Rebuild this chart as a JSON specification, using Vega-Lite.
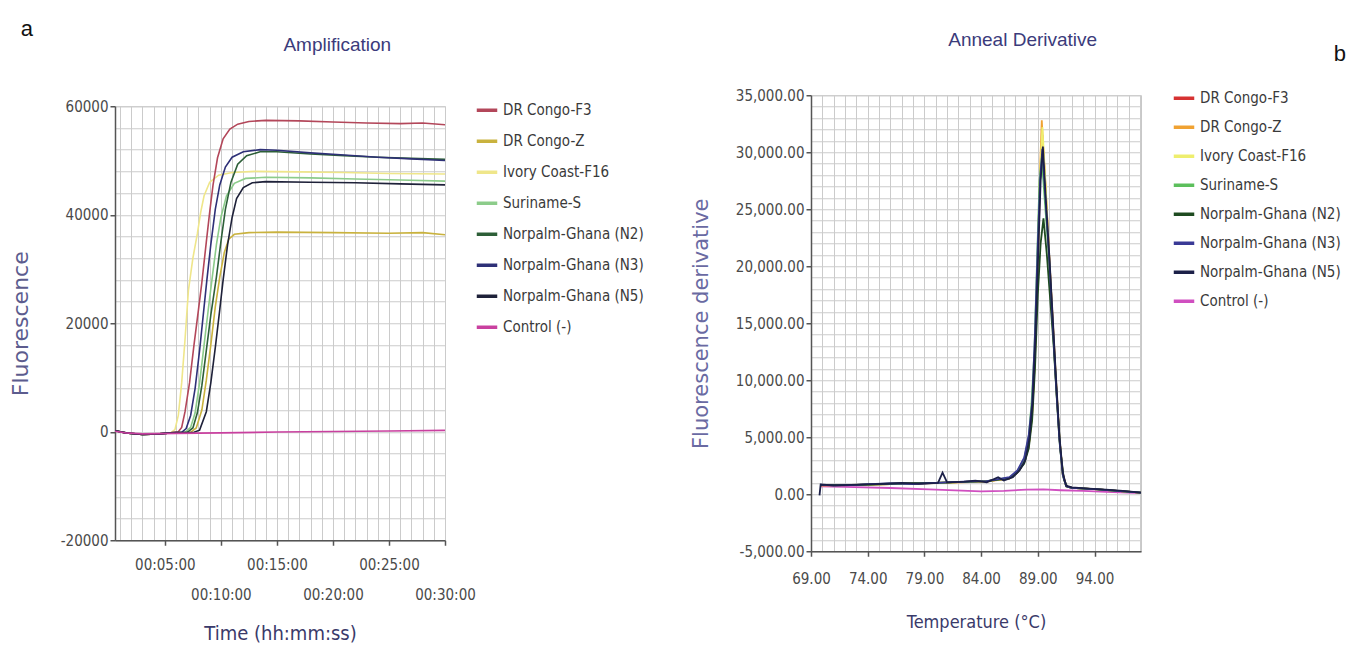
{
  "$schema": "https://vega.github.io/schema/vega-lite/v6.json",
  "description": "qPCR amplification curves (a) and anneal derivative melt curves (b) for oil palm samples",
  "background": "white",
  "padding": {"left": 8, "top": 17, "right": 8, "bottom": 4},
  "spacing": 45,
  "center": true,
  "config": {
    "font": "Liberation Sans",
    "view": {"stroke": "#c8c8c8"},
    "axis": {
      "labelFont": "Liberation Sans Narrow, DejaVu Sans Condensed, sans-serif",
      "labelFontSize": 15,
      "labelColor": "#4a4a4a",
      "domainColor": "#555555",
      "domainWidth": 1.5,
      "tickColor": "#555555",
      "tickSize": 5,
      "tickWidth": 1.5,
      "gridColor": "#cbcbcb",
      "gridWidth": 1,
      "titleFontWeight": "normal",
      "labelOverlap": false,
      "labelFlush": false
    },
    "legend": {
      "labelFont": "Liberation Sans Narrow, DejaVu Sans Condensed, sans-serif",
      "labelFontSize": 15,
      "labelColor": "#3a3a3a",
      "symbolType": "stroke",
      "symbolStrokeWidth": 3.5,
      "symbolSize": 420,
      "labelLimit": 200
    },
    "title": {"fontWeight": "normal", "font": "Liberation Sans"}
  },
  "datasets": {
    "amp": [
      {"sample": "Ivory Coast-F16", "minute": 0.55, "value": 200},
      {"sample": "Ivory Coast-F16", "minute": 1.5, "value": -200},
      {"sample": "Ivory Coast-F16", "minute": 3, "value": -500},
      {"sample": "Ivory Coast-F16", "minute": 4.5, "value": -400},
      {"sample": "Ivory Coast-F16", "minute": 5.5, "value": -200},
      {"sample": "Ivory Coast-F16", "minute": 5.9, "value": 400},
      {"sample": "Ivory Coast-F16", "minute": 6.2, "value": 3000},
      {"sample": "Ivory Coast-F16", "minute": 6.5, "value": 9000},
      {"sample": "Ivory Coast-F16", "minute": 6.8, "value": 17000},
      {"sample": "Ivory Coast-F16", "minute": 7.1, "value": 26000},
      {"sample": "Ivory Coast-F16", "minute": 7.5, "value": 32000},
      {"sample": "Ivory Coast-F16", "minute": 7.9, "value": 36500},
      {"sample": "Ivory Coast-F16", "minute": 8.2, "value": 40500},
      {"sample": "Ivory Coast-F16", "minute": 8.5, "value": 43500},
      {"sample": "Ivory Coast-F16", "minute": 9.0, "value": 46000},
      {"sample": "Ivory Coast-F16", "minute": 9.8, "value": 47300},
      {"sample": "Ivory Coast-F16", "minute": 11, "value": 47800},
      {"sample": "Ivory Coast-F16", "minute": 13, "value": 48000},
      {"sample": "Ivory Coast-F16", "minute": 17, "value": 47900},
      {"sample": "Ivory Coast-F16", "minute": 21, "value": 47800},
      {"sample": "Ivory Coast-F16", "minute": 25, "value": 47600},
      {"sample": "Ivory Coast-F16", "minute": 30, "value": 47500},

      {"sample": "DR Congo-Z", "minute": 0.55, "value": 200},
      {"sample": "DR Congo-Z", "minute": 1.5, "value": -200},
      {"sample": "DR Congo-Z", "minute": 3, "value": -500},
      {"sample": "DR Congo-Z", "minute": 4.5, "value": -400},
      {"sample": "DR Congo-Z", "minute": 5.5, "value": -200},
      {"sample": "DR Congo-Z", "minute": 7.3, "value": -100},
      {"sample": "DR Congo-Z", "minute": 7.8, "value": 700},
      {"sample": "DR Congo-Z", "minute": 8.3, "value": 4000},
      {"sample": "DR Congo-Z", "minute": 8.7, "value": 9500},
      {"sample": "DR Congo-Z", "minute": 9.1, "value": 16000},
      {"sample": "DR Congo-Z", "minute": 9.5, "value": 23000},
      {"sample": "DR Congo-Z", "minute": 9.9, "value": 28500},
      {"sample": "DR Congo-Z", "minute": 10.3, "value": 33000},
      {"sample": "DR Congo-Z", "minute": 10.7, "value": 35500},
      {"sample": "DR Congo-Z", "minute": 11.2, "value": 36400},
      {"sample": "DR Congo-Z", "minute": 12.5, "value": 36700},
      {"sample": "DR Congo-Z", "minute": 15, "value": 36800},
      {"sample": "DR Congo-Z", "minute": 20, "value": 36700},
      {"sample": "DR Congo-Z", "minute": 25, "value": 36600},
      {"sample": "DR Congo-Z", "minute": 28, "value": 36700},
      {"sample": "DR Congo-Z", "minute": 30, "value": 36300},

      {"sample": "Suriname-S", "minute": 0.55, "value": 200},
      {"sample": "Suriname-S", "minute": 1.5, "value": -200},
      {"sample": "Suriname-S", "minute": 3, "value": -500},
      {"sample": "Suriname-S", "minute": 4.5, "value": -400},
      {"sample": "Suriname-S", "minute": 5.5, "value": -200},
      {"sample": "Suriname-S", "minute": 6.8, "value": -100},
      {"sample": "Suriname-S", "minute": 7.3, "value": 800},
      {"sample": "Suriname-S", "minute": 7.7, "value": 3500},
      {"sample": "Suriname-S", "minute": 8.1, "value": 9000},
      {"sample": "Suriname-S", "minute": 8.5, "value": 16000},
      {"sample": "Suriname-S", "minute": 8.9, "value": 23000},
      {"sample": "Suriname-S", "minute": 9.2, "value": 28000},
      {"sample": "Suriname-S", "minute": 9.6, "value": 34500},
      {"sample": "Suriname-S", "minute": 10.0, "value": 39500},
      {"sample": "Suriname-S", "minute": 10.5, "value": 43500},
      {"sample": "Suriname-S", "minute": 11.2, "value": 45800},
      {"sample": "Suriname-S", "minute": 12.2, "value": 46700},
      {"sample": "Suriname-S", "minute": 14, "value": 46900},
      {"sample": "Suriname-S", "minute": 18, "value": 46800},
      {"sample": "Suriname-S", "minute": 22, "value": 46600},
      {"sample": "Suriname-S", "minute": 26, "value": 46400},
      {"sample": "Suriname-S", "minute": 30, "value": 46200},

      {"sample": "DR Congo-F3", "minute": 0.55, "value": 200},
      {"sample": "DR Congo-F3", "minute": 1.5, "value": -200},
      {"sample": "DR Congo-F3", "minute": 3, "value": -500},
      {"sample": "DR Congo-F3", "minute": 4.5, "value": -400},
      {"sample": "DR Congo-F3", "minute": 5.5, "value": -200},
      {"sample": "DR Congo-F3", "minute": 6.2, "value": 0},
      {"sample": "DR Congo-F3", "minute": 6.5, "value": 800},
      {"sample": "DR Congo-F3", "minute": 6.8, "value": 3700},
      {"sample": "DR Congo-F3", "minute": 7.2, "value": 9000},
      {"sample": "DR Congo-F3", "minute": 7.6, "value": 16000},
      {"sample": "DR Congo-F3", "minute": 8.0, "value": 22500},
      {"sample": "DR Congo-F3", "minute": 8.3, "value": 27500},
      {"sample": "DR Congo-F3", "minute": 8.7, "value": 35000},
      {"sample": "DR Congo-F3", "minute": 9.0, "value": 40500},
      {"sample": "DR Congo-F3", "minute": 9.3, "value": 45500},
      {"sample": "DR Congo-F3", "minute": 9.7, "value": 50500},
      {"sample": "DR Congo-F3", "minute": 10.2, "value": 54000},
      {"sample": "DR Congo-F3", "minute": 10.8, "value": 55800},
      {"sample": "DR Congo-F3", "minute": 11.5, "value": 56700},
      {"sample": "DR Congo-F3", "minute": 12.5, "value": 57200},
      {"sample": "DR Congo-F3", "minute": 14, "value": 57400},
      {"sample": "DR Congo-F3", "minute": 17, "value": 57300},
      {"sample": "DR Congo-F3", "minute": 20, "value": 57100},
      {"sample": "DR Congo-F3", "minute": 23, "value": 56900},
      {"sample": "DR Congo-F3", "minute": 26, "value": 56800},
      {"sample": "DR Congo-F3", "minute": 28, "value": 56900},
      {"sample": "DR Congo-F3", "minute": 30, "value": 56600},

      {"sample": "Norpalm-Ghana (N2)", "minute": 0.55, "value": 200},
      {"sample": "Norpalm-Ghana (N2)", "minute": 1.5, "value": -200},
      {"sample": "Norpalm-Ghana (N2)", "minute": 3, "value": -500},
      {"sample": "Norpalm-Ghana (N2)", "minute": 4.5, "value": -400},
      {"sample": "Norpalm-Ghana (N2)", "minute": 5.5, "value": -200},
      {"sample": "Norpalm-Ghana (N2)", "minute": 7.0, "value": -100},
      {"sample": "Norpalm-Ghana (N2)", "minute": 7.5, "value": 700},
      {"sample": "Norpalm-Ghana (N2)", "minute": 7.9, "value": 3500},
      {"sample": "Norpalm-Ghana (N2)", "minute": 8.3, "value": 8500},
      {"sample": "Norpalm-Ghana (N2)", "minute": 8.7, "value": 15000},
      {"sample": "Norpalm-Ghana (N2)", "minute": 9.1, "value": 21500},
      {"sample": "Norpalm-Ghana (N2)", "minute": 9.6, "value": 28500},
      {"sample": "Norpalm-Ghana (N2)", "minute": 10.0, "value": 35000},
      {"sample": "Norpalm-Ghana (N2)", "minute": 10.4, "value": 41000},
      {"sample": "Norpalm-Ghana (N2)", "minute": 10.9, "value": 46000},
      {"sample": "Norpalm-Ghana (N2)", "minute": 11.5, "value": 49300},
      {"sample": "Norpalm-Ghana (N2)", "minute": 12.3, "value": 50900},
      {"sample": "Norpalm-Ghana (N2)", "minute": 13.5, "value": 51600},
      {"sample": "Norpalm-Ghana (N2)", "minute": 15, "value": 51600},
      {"sample": "Norpalm-Ghana (N2)", "minute": 18, "value": 51200},
      {"sample": "Norpalm-Ghana (N2)", "minute": 21, "value": 50900},
      {"sample": "Norpalm-Ghana (N2)", "minute": 24, "value": 50600},
      {"sample": "Norpalm-Ghana (N2)", "minute": 27, "value": 50400},
      {"sample": "Norpalm-Ghana (N2)", "minute": 30, "value": 50200},

      {"sample": "Norpalm-Ghana (N3)", "minute": 0.55, "value": 200},
      {"sample": "Norpalm-Ghana (N3)", "minute": 1.5, "value": -200},
      {"sample": "Norpalm-Ghana (N3)", "minute": 3, "value": -500},
      {"sample": "Norpalm-Ghana (N3)", "minute": 4.5, "value": -400},
      {"sample": "Norpalm-Ghana (N3)", "minute": 5.5, "value": -200},
      {"sample": "Norpalm-Ghana (N3)", "minute": 6.5, "value": -100},
      {"sample": "Norpalm-Ghana (N3)", "minute": 6.9, "value": 600},
      {"sample": "Norpalm-Ghana (N3)", "minute": 7.3, "value": 3000},
      {"sample": "Norpalm-Ghana (N3)", "minute": 7.7, "value": 8000},
      {"sample": "Norpalm-Ghana (N3)", "minute": 8.1, "value": 15000},
      {"sample": "Norpalm-Ghana (N3)", "minute": 8.45, "value": 22000},
      {"sample": "Norpalm-Ghana (N3)", "minute": 8.75, "value": 28000},
      {"sample": "Norpalm-Ghana (N3)", "minute": 9.1, "value": 34500},
      {"sample": "Norpalm-Ghana (N3)", "minute": 9.5, "value": 41000},
      {"sample": "Norpalm-Ghana (N3)", "minute": 9.9, "value": 45500},
      {"sample": "Norpalm-Ghana (N3)", "minute": 10.4, "value": 48800},
      {"sample": "Norpalm-Ghana (N3)", "minute": 11.0, "value": 50600},
      {"sample": "Norpalm-Ghana (N3)", "minute": 12, "value": 51600},
      {"sample": "Norpalm-Ghana (N3)", "minute": 13.5, "value": 52000},
      {"sample": "Norpalm-Ghana (N3)", "minute": 15, "value": 51900},
      {"sample": "Norpalm-Ghana (N3)", "minute": 18, "value": 51400},
      {"sample": "Norpalm-Ghana (N3)", "minute": 21, "value": 51000},
      {"sample": "Norpalm-Ghana (N3)", "minute": 24, "value": 50600},
      {"sample": "Norpalm-Ghana (N3)", "minute": 27, "value": 50300},
      {"sample": "Norpalm-Ghana (N3)", "minute": 30, "value": 50000},

      {"sample": "Norpalm-Ghana (N5)", "minute": 0.55, "value": 200},
      {"sample": "Norpalm-Ghana (N5)", "minute": 1.5, "value": -200},
      {"sample": "Norpalm-Ghana (N5)", "minute": 3, "value": -500},
      {"sample": "Norpalm-Ghana (N5)", "minute": 4.5, "value": -400},
      {"sample": "Norpalm-Ghana (N5)", "minute": 5.5, "value": -200},
      {"sample": "Norpalm-Ghana (N5)", "minute": 7.6, "value": -100},
      {"sample": "Norpalm-Ghana (N5)", "minute": 8.1, "value": 300},
      {"sample": "Norpalm-Ghana (N5)", "minute": 8.7, "value": 3700},
      {"sample": "Norpalm-Ghana (N5)", "minute": 9.1, "value": 9000},
      {"sample": "Norpalm-Ghana (N5)", "minute": 9.5, "value": 15500},
      {"sample": "Norpalm-Ghana (N5)", "minute": 9.9, "value": 22500},
      {"sample": "Norpalm-Ghana (N5)", "minute": 10.2, "value": 28000},
      {"sample": "Norpalm-Ghana (N5)", "minute": 10.6, "value": 34500},
      {"sample": "Norpalm-Ghana (N5)", "minute": 11.0, "value": 39500},
      {"sample": "Norpalm-Ghana (N5)", "minute": 11.4, "value": 43000},
      {"sample": "Norpalm-Ghana (N5)", "minute": 12.0, "value": 45000},
      {"sample": "Norpalm-Ghana (N5)", "minute": 12.8, "value": 45900},
      {"sample": "Norpalm-Ghana (N5)", "minute": 14, "value": 46100},
      {"sample": "Norpalm-Ghana (N5)", "minute": 18, "value": 46000},
      {"sample": "Norpalm-Ghana (N5)", "minute": 22, "value": 45900},
      {"sample": "Norpalm-Ghana (N5)", "minute": 26, "value": 45700},
      {"sample": "Norpalm-Ghana (N5)", "minute": 30, "value": 45500},

      {"sample": "Control (-)", "minute": 0.55, "value": 100},
      {"sample": "Control (-)", "minute": 1.5, "value": -200},
      {"sample": "Control (-)", "minute": 3, "value": -400},
      {"sample": "Control (-)", "minute": 6, "value": -300},
      {"sample": "Control (-)", "minute": 10, "value": -200},
      {"sample": "Control (-)", "minute": 15, "value": -50},
      {"sample": "Control (-)", "minute": 20, "value": 50},
      {"sample": "Control (-)", "minute": 25, "value": 150},
      {"sample": "Control (-)", "minute": 30, "value": 250}
    ],
    "melt": [
      {"sample": "Control (-)", "temp": 69.8, "value": 700},
      {"sample": "Control (-)", "temp": 72, "value": 650},
      {"sample": "Control (-)", "temp": 76, "value": 550},
      {"sample": "Control (-)", "temp": 80, "value": 400},
      {"sample": "Control (-)", "temp": 84, "value": 250},
      {"sample": "Control (-)", "temp": 86, "value": 300},
      {"sample": "Control (-)", "temp": 88, "value": 400},
      {"sample": "Control (-)", "temp": 89.5, "value": 420},
      {"sample": "Control (-)", "temp": 91, "value": 350},
      {"sample": "Control (-)", "temp": 93, "value": 300},
      {"sample": "Control (-)", "temp": 95, "value": 200},
      {"sample": "Control (-)", "temp": 98.1, "value": 100},

      {"sample": "DR Congo-F3", "temp": 69.8, "value": 800},
      {"sample": "DR Congo-F3", "temp": 72.5, "value": 800},
      {"sample": "DR Congo-F3", "temp": 76, "value": 900},
      {"sample": "DR Congo-F3", "temp": 80, "value": 1000},
      {"sample": "DR Congo-F3", "temp": 84.5, "value": 1150},
      {"sample": "DR Congo-F3", "temp": 86.5, "value": 1400},
      {"sample": "DR Congo-F3", "temp": 87.2, "value": 1900},
      {"sample": "DR Congo-F3", "temp": 87.8, "value": 2800},
      {"sample": "DR Congo-F3", "temp": 88.2, "value": 4200},
      {"sample": "DR Congo-F3", "temp": 88.5, "value": 7000},
      {"sample": "DR Congo-F3", "temp": 88.75, "value": 12000},
      {"sample": "DR Congo-F3", "temp": 89.0, "value": 20000},
      {"sample": "DR Congo-F3", "temp": 89.2, "value": 27500},
      {"sample": "DR Congo-F3", "temp": 89.4, "value": 31500},
      {"sample": "DR Congo-F3", "temp": 89.6, "value": 28500},
      {"sample": "DR Congo-F3", "temp": 90.0, "value": 21000},
      {"sample": "DR Congo-F3", "temp": 90.3, "value": 15500},
      {"sample": "DR Congo-F3", "temp": 90.6, "value": 10000},
      {"sample": "DR Congo-F3", "temp": 90.9, "value": 5000},
      {"sample": "DR Congo-F3", "temp": 91.2, "value": 1800},
      {"sample": "DR Congo-F3", "temp": 91.5, "value": 700},
      {"sample": "DR Congo-F3", "temp": 92, "value": 550},
      {"sample": "DR Congo-F3", "temp": 94, "value": 450},
      {"sample": "DR Congo-F3", "temp": 96, "value": 300},
      {"sample": "DR Congo-F3", "temp": 98.1, "value": 150},

      {"sample": "DR Congo-Z", "temp": 69.8, "value": 750},
      {"sample": "DR Congo-Z", "temp": 72.5, "value": 800},
      {"sample": "DR Congo-Z", "temp": 76, "value": 880},
      {"sample": "DR Congo-Z", "temp": 80, "value": 980},
      {"sample": "DR Congo-Z", "temp": 84.5, "value": 1100},
      {"sample": "DR Congo-Z", "temp": 86.5, "value": 1400},
      {"sample": "DR Congo-Z", "temp": 87.2, "value": 1900},
      {"sample": "DR Congo-Z", "temp": 87.8, "value": 2800},
      {"sample": "DR Congo-Z", "temp": 88.2, "value": 4300},
      {"sample": "DR Congo-Z", "temp": 88.5, "value": 7200},
      {"sample": "DR Congo-Z", "temp": 88.75, "value": 12500},
      {"sample": "DR Congo-Z", "temp": 89.0, "value": 21000},
      {"sample": "DR Congo-Z", "temp": 89.2, "value": 28500},
      {"sample": "DR Congo-Z", "temp": 89.35, "value": 32800},
      {"sample": "DR Congo-Z", "temp": 89.5, "value": 30000},
      {"sample": "DR Congo-Z", "temp": 89.7, "value": 26500},
      {"sample": "DR Congo-Z", "temp": 90.0, "value": 21000},
      {"sample": "DR Congo-Z", "temp": 90.3, "value": 15500},
      {"sample": "DR Congo-Z", "temp": 90.6, "value": 10000},
      {"sample": "DR Congo-Z", "temp": 90.9, "value": 5000},
      {"sample": "DR Congo-Z", "temp": 91.2, "value": 1800},
      {"sample": "DR Congo-Z", "temp": 91.5, "value": 700},
      {"sample": "DR Congo-Z", "temp": 92, "value": 550},
      {"sample": "DR Congo-Z", "temp": 94, "value": 450},
      {"sample": "DR Congo-Z", "temp": 96, "value": 300},
      {"sample": "DR Congo-Z", "temp": 98.1, "value": 150},

      {"sample": "Ivory Coast-F16", "temp": 69.8, "value": 800},
      {"sample": "Ivory Coast-F16", "temp": 72.5, "value": 820},
      {"sample": "Ivory Coast-F16", "temp": 76, "value": 900},
      {"sample": "Ivory Coast-F16", "temp": 80, "value": 1000},
      {"sample": "Ivory Coast-F16", "temp": 84.5, "value": 1150},
      {"sample": "Ivory Coast-F16", "temp": 86.5, "value": 1400},
      {"sample": "Ivory Coast-F16", "temp": 87.2, "value": 1900},
      {"sample": "Ivory Coast-F16", "temp": 87.8, "value": 2800},
      {"sample": "Ivory Coast-F16", "temp": 88.2, "value": 4200},
      {"sample": "Ivory Coast-F16", "temp": 88.5, "value": 7000},
      {"sample": "Ivory Coast-F16", "temp": 88.75, "value": 12000},
      {"sample": "Ivory Coast-F16", "temp": 89.0, "value": 20500},
      {"sample": "Ivory Coast-F16", "temp": 89.2, "value": 28000},
      {"sample": "Ivory Coast-F16", "temp": 89.4, "value": 32200},
      {"sample": "Ivory Coast-F16", "temp": 89.5, "value": 30500},
      {"sample": "Ivory Coast-F16", "temp": 89.7, "value": 27000},
      {"sample": "Ivory Coast-F16", "temp": 90.0, "value": 21000},
      {"sample": "Ivory Coast-F16", "temp": 90.3, "value": 15500},
      {"sample": "Ivory Coast-F16", "temp": 90.6, "value": 10000},
      {"sample": "Ivory Coast-F16", "temp": 90.9, "value": 5000},
      {"sample": "Ivory Coast-F16", "temp": 91.2, "value": 1800},
      {"sample": "Ivory Coast-F16", "temp": 91.5, "value": 700},
      {"sample": "Ivory Coast-F16", "temp": 92, "value": 550},
      {"sample": "Ivory Coast-F16", "temp": 94, "value": 450},
      {"sample": "Ivory Coast-F16", "temp": 96, "value": 300},
      {"sample": "Ivory Coast-F16", "temp": 98.1, "value": 150},

      {"sample": "Suriname-S", "temp": 69.8, "value": 800},
      {"sample": "Suriname-S", "temp": 72.5, "value": 800},
      {"sample": "Suriname-S", "temp": 76, "value": 900},
      {"sample": "Suriname-S", "temp": 80, "value": 1000},
      {"sample": "Suriname-S", "temp": 84.5, "value": 1150},
      {"sample": "Suriname-S", "temp": 86.5, "value": 1450},
      {"sample": "Suriname-S", "temp": 87.2, "value": 2000},
      {"sample": "Suriname-S", "temp": 87.8, "value": 3100},
      {"sample": "Suriname-S", "temp": 88.2, "value": 5000},
      {"sample": "Suriname-S", "temp": 88.45, "value": 8000},
      {"sample": "Suriname-S", "temp": 88.7, "value": 12500},
      {"sample": "Suriname-S", "temp": 88.95, "value": 21000},
      {"sample": "Suriname-S", "temp": 89.15, "value": 27500},
      {"sample": "Suriname-S", "temp": 89.35, "value": 29500},
      {"sample": "Suriname-S", "temp": 89.6, "value": 26000},
      {"sample": "Suriname-S", "temp": 90.0, "value": 20500},
      {"sample": "Suriname-S", "temp": 90.3, "value": 15000},
      {"sample": "Suriname-S", "temp": 90.6, "value": 9800},
      {"sample": "Suriname-S", "temp": 90.9, "value": 4800},
      {"sample": "Suriname-S", "temp": 91.2, "value": 1700},
      {"sample": "Suriname-S", "temp": 91.5, "value": 700},
      {"sample": "Suriname-S", "temp": 92, "value": 550},
      {"sample": "Suriname-S", "temp": 94, "value": 450},
      {"sample": "Suriname-S", "temp": 96, "value": 300},
      {"sample": "Suriname-S", "temp": 98.1, "value": 150},

      {"sample": "Norpalm-Ghana (N2)", "temp": 69.8, "value": 820},
      {"sample": "Norpalm-Ghana (N2)", "temp": 72.5, "value": 800},
      {"sample": "Norpalm-Ghana (N2)", "temp": 76, "value": 920},
      {"sample": "Norpalm-Ghana (N2)", "temp": 80, "value": 1000},
      {"sample": "Norpalm-Ghana (N2)", "temp": 84.5, "value": 1150},
      {"sample": "Norpalm-Ghana (N2)", "temp": 86.5, "value": 1400},
      {"sample": "Norpalm-Ghana (N2)", "temp": 87.2, "value": 1900},
      {"sample": "Norpalm-Ghana (N2)", "temp": 87.8, "value": 2700},
      {"sample": "Norpalm-Ghana (N2)", "temp": 88.2, "value": 4000},
      {"sample": "Norpalm-Ghana (N2)", "temp": 88.5, "value": 6500},
      {"sample": "Norpalm-Ghana (N2)", "temp": 88.75, "value": 11000},
      {"sample": "Norpalm-Ghana (N2)", "temp": 89.0, "value": 17500},
      {"sample": "Norpalm-Ghana (N2)", "temp": 89.25, "value": 22000},
      {"sample": "Norpalm-Ghana (N2)", "temp": 89.5, "value": 24200},
      {"sample": "Norpalm-Ghana (N2)", "temp": 89.8, "value": 21000},
      {"sample": "Norpalm-Ghana (N2)", "temp": 90.1, "value": 17000},
      {"sample": "Norpalm-Ghana (N2)", "temp": 90.4, "value": 13000},
      {"sample": "Norpalm-Ghana (N2)", "temp": 90.7, "value": 8000},
      {"sample": "Norpalm-Ghana (N2)", "temp": 91.0, "value": 3800},
      {"sample": "Norpalm-Ghana (N2)", "temp": 91.3, "value": 1300},
      {"sample": "Norpalm-Ghana (N2)", "temp": 91.6, "value": 650},
      {"sample": "Norpalm-Ghana (N2)", "temp": 92, "value": 550},
      {"sample": "Norpalm-Ghana (N2)", "temp": 94, "value": 450},
      {"sample": "Norpalm-Ghana (N2)", "temp": 96, "value": 300},
      {"sample": "Norpalm-Ghana (N2)", "temp": 98.1, "value": 150},

      {"sample": "Norpalm-Ghana (N3)", "temp": 69.8, "value": 850},
      {"sample": "Norpalm-Ghana (N3)", "temp": 71, "value": 750},
      {"sample": "Norpalm-Ghana (N3)", "temp": 72.5, "value": 800},
      {"sample": "Norpalm-Ghana (N3)", "temp": 74, "value": 880},
      {"sample": "Norpalm-Ghana (N3)", "temp": 76, "value": 950},
      {"sample": "Norpalm-Ghana (N3)", "temp": 78, "value": 900},
      {"sample": "Norpalm-Ghana (N3)", "temp": 80, "value": 1000},
      {"sample": "Norpalm-Ghana (N3)", "temp": 82.5, "value": 1100},
      {"sample": "Norpalm-Ghana (N3)", "temp": 84.5, "value": 1150},
      {"sample": "Norpalm-Ghana (N3)", "temp": 86.5, "value": 1500},
      {"sample": "Norpalm-Ghana (N3)", "temp": 87.2, "value": 2100},
      {"sample": "Norpalm-Ghana (N3)", "temp": 87.8, "value": 3200},
      {"sample": "Norpalm-Ghana (N3)", "temp": 88.2, "value": 5200},
      {"sample": "Norpalm-Ghana (N3)", "temp": 88.5, "value": 8000},
      {"sample": "Norpalm-Ghana (N3)", "temp": 88.75, "value": 14000},
      {"sample": "Norpalm-Ghana (N3)", "temp": 89.0, "value": 22000},
      {"sample": "Norpalm-Ghana (N3)", "temp": 89.2, "value": 27500},
      {"sample": "Norpalm-Ghana (N3)", "temp": 89.4, "value": 30300},
      {"sample": "Norpalm-Ghana (N3)", "temp": 89.7, "value": 25500},
      {"sample": "Norpalm-Ghana (N3)", "temp": 90.0, "value": 20800},
      {"sample": "Norpalm-Ghana (N3)", "temp": 90.3, "value": 15300},
      {"sample": "Norpalm-Ghana (N3)", "temp": 90.6, "value": 9800},
      {"sample": "Norpalm-Ghana (N3)", "temp": 90.9, "value": 4800},
      {"sample": "Norpalm-Ghana (N3)", "temp": 91.2, "value": 1700},
      {"sample": "Norpalm-Ghana (N3)", "temp": 91.5, "value": 700},
      {"sample": "Norpalm-Ghana (N3)", "temp": 92, "value": 550},
      {"sample": "Norpalm-Ghana (N3)", "temp": 94, "value": 450},
      {"sample": "Norpalm-Ghana (N3)", "temp": 96, "value": 300},
      {"sample": "Norpalm-Ghana (N3)", "temp": 98.1, "value": 150},

      {"sample": "Norpalm-Ghana (N5)", "temp": 69.75, "value": -100},
      {"sample": "Norpalm-Ghana (N5)", "temp": 69.85, "value": 850},
      {"sample": "Norpalm-Ghana (N5)", "temp": 71, "value": 780},
      {"sample": "Norpalm-Ghana (N5)", "temp": 72.5, "value": 820},
      {"sample": "Norpalm-Ghana (N5)", "temp": 74, "value": 870},
      {"sample": "Norpalm-Ghana (N5)", "temp": 75.5, "value": 920},
      {"sample": "Norpalm-Ghana (N5)", "temp": 77, "value": 1000},
      {"sample": "Norpalm-Ghana (N5)", "temp": 78.5, "value": 920},
      {"sample": "Norpalm-Ghana (N5)", "temp": 80.2, "value": 1000},
      {"sample": "Norpalm-Ghana (N5)", "temp": 80.6, "value": 1900},
      {"sample": "Norpalm-Ghana (N5)", "temp": 81.0, "value": 1050},
      {"sample": "Norpalm-Ghana (N5)", "temp": 82.5, "value": 1100},
      {"sample": "Norpalm-Ghana (N5)", "temp": 83.5, "value": 1200},
      {"sample": "Norpalm-Ghana (N5)", "temp": 84.5, "value": 1050},
      {"sample": "Norpalm-Ghana (N5)", "temp": 85.5, "value": 1500},
      {"sample": "Norpalm-Ghana (N5)", "temp": 86.0, "value": 1200},
      {"sample": "Norpalm-Ghana (N5)", "temp": 86.8, "value": 1500},
      {"sample": "Norpalm-Ghana (N5)", "temp": 87.4, "value": 2100},
      {"sample": "Norpalm-Ghana (N5)", "temp": 87.9, "value": 3000},
      {"sample": "Norpalm-Ghana (N5)", "temp": 88.25, "value": 4800},
      {"sample": "Norpalm-Ghana (N5)", "temp": 88.55, "value": 8200},
      {"sample": "Norpalm-Ghana (N5)", "temp": 88.8, "value": 14000},
      {"sample": "Norpalm-Ghana (N5)", "temp": 89.05, "value": 21500},
      {"sample": "Norpalm-Ghana (N5)", "temp": 89.25, "value": 27500},
      {"sample": "Norpalm-Ghana (N5)", "temp": 89.45, "value": 30500},
      {"sample": "Norpalm-Ghana (N5)", "temp": 89.7, "value": 26000},
      {"sample": "Norpalm-Ghana (N5)", "temp": 90.0, "value": 21200},
      {"sample": "Norpalm-Ghana (N5)", "temp": 90.3, "value": 15800},
      {"sample": "Norpalm-Ghana (N5)", "temp": 90.6, "value": 10300},
      {"sample": "Norpalm-Ghana (N5)", "temp": 90.9, "value": 5200},
      {"sample": "Norpalm-Ghana (N5)", "temp": 91.2, "value": 1900},
      {"sample": "Norpalm-Ghana (N5)", "temp": 91.5, "value": 750},
      {"sample": "Norpalm-Ghana (N5)", "temp": 92, "value": 600},
      {"sample": "Norpalm-Ghana (N5)", "temp": 93.5, "value": 500},
      {"sample": "Norpalm-Ghana (N5)", "temp": 95, "value": 400},
      {"sample": "Norpalm-Ghana (N5)", "temp": 96.5, "value": 300},
      {"sample": "Norpalm-Ghana (N5)", "temp": 98.1, "value": 150}
    ]
  },
  "resolve": {"scale": {"color": "independent"}},
  "hconcat": [
    {
      "title": {"text": "a", "anchor": "start", "fontSize": 22, "color": "#111111", "font": "Liberation Sans", "offset": -12, "dx": 12, "dy": -7},
      "hconcat": [
        {
          "width": 330,
          "height": 434,
          "title": {"text": "Amplification", "fontSize": 19, "color": "#3b3b7b", "offset": 44, "frame": "bounds", "dx": 95},
          "data": {"name": "amp"},
          "mark": {"type": "line", "strokeWidth": 1.6, "clip": true},
          "encoding": {
            "x": {
              "field": "minute",
              "type": "quantitative",
              "scale": {"domain": [0.55, 30], "nice": false, "zero": false},
              "axis": {
                "values": [1, 2, 3, 4, 5, 6, 7, 8, 9, 10, 11, 12, 13, 14, 15, 16, 17, 18, 19, 20, 21, 22, 23, 24, 25, 26, 27, 28, 29, 30],
                "labelExpr": "datum.value % 5 == 0 ? '00:' + (datum.value < 10 ? '0' : '') + datum.value + ':00' : ''",
                "tickOpacity": {"condition": {"test": "datum.value % 5 == 0", "value": 1}, "value": 0},
                "labelPadding": {"condition": {"test": "datum.value % 10 == 0", "value": 42}, "value": 12},
                "title": "Time (hh:mm:ss)",
                "titleFont": "DejaVu Sans Condensed, Liberation Sans",
                "titleFontSize": 20,
                "titleColor": "#3a3a6a",
                "titlePadding": 21
              }
            },
            "y": {
              "field": "value",
              "type": "quantitative",
              "scale": {"domain": [-20000, 60000], "nice": false},
              "axis": {
                "values": [-20000, -16000, -12000, -8000, -4000, 0, 4000, 8000, 12000, 16000, 20000, 24000, 28000, 32000, 36000, 40000, 44000, 48000, 52000, 56000, 60000],
                "labelExpr": "datum.value % 20000 == 0 ? '' + datum.value : ''",
                "tickOpacity": {"condition": {"test": "datum.value % 20000 == 0", "value": 1}, "value": 0},
                "labelPadding": 2,
                "title": "Fluorescence",
                "titleFont": "DejaVu Sans",
                "titleFontSize": 22,
                "titleColor": "#5c5c8e",
                "titlePadding": 28
              }
            },
            "color": {
              "field": "sample",
              "type": "nominal",
              "scale": {
                "domain": ["DR Congo-F3", "DR Congo-Z", "Ivory Coast-F16", "Suriname-S", "Norpalm-Ghana (N2)", "Norpalm-Ghana (N3)", "Norpalm-Ghana (N5)", "Control (-)"],
                "range": ["#b3475a", "#c9b23e", "#efe68a", "#8ccc8a", "#2d5f38", "#2e3077", "#1e2139", "#c9409f"]
              },
              "legend": {"title": null, "rowPadding": 11, "orient": "none", "legendX": 360, "legendY": -8}
            }
          }
        }
      ]
    },
    {
      "title": {"text": "b", "anchor": "end", "fontSize": 22, "color": "#111111", "font": "Liberation Sans", "offset": -12, "dy": 23, "dx": 5},
      "hconcat": [
        {
          "width": 330,
          "height": 456,
          "title": {"text": "Anneal Derivative", "fontSize": 19, "color": "#3b3b7b", "offset": 38, "frame": "bounds", "dx": 107},
          "data": {"name": "melt"},
          "mark": {"type": "line", "strokeWidth": 1.8, "clip": true},
          "encoding": {
            "x": {
              "field": "temp",
              "type": "quantitative",
              "scale": {"domain": [69, 98.1], "nice": false, "zero": false},
              "axis": {
                "values": [69, 70, 71, 72, 73, 74, 75, 76, 77, 78, 79, 80, 81, 82, 83, 84, 85, 86, 87, 88, 89, 90, 91, 92, 93, 94, 95, 96, 97, 98],
                "labelExpr": "(datum.value - 69) % 5 == 0 && datum.value < 95 ? format(datum.value, '.2f') : ''",
                "tickOpacity": {"condition": {"test": "(datum.value - 69) % 5 == 0", "value": 1}, "value": 0},
                "labelPadding": 15,
                "title": ["Temperature (°C)", " "],
                "titleLineHeight": 23,
                "titleFont": "Liberation Sans Narrow, DejaVu Sans Condensed, sans-serif",
                "titleFontSize": 18,
                "titleColor": "#3a3a6a",
                "titlePadding": 27
              }
            },
            "y": {
              "field": "value",
              "type": "quantitative",
              "scale": {"domain": [-5000, 35000], "nice": false},
              "axis": {
                "values": [-5000, -4000, -3000, -2000, -1000, 0, 1000, 2000, 3000, 4000, 5000, 6000, 7000, 8000, 9000, 10000, 11000, 12000, 13000, 14000, 15000, 16000, 17000, 18000, 19000, 20000, 21000, 22000, 23000, 24000, 25000, 26000, 27000, 28000, 29000, 30000, 31000, 32000, 33000, 34000, 35000],
                "labelExpr": "datum.value % 5000 == 0 ? replace(format(datum.value, ',.2f'), '−', '-') : ''",
                "tickOpacity": {"condition": {"test": "datum.value % 5000 == 0", "value": 1}, "value": 0},
                "labelPadding": 2,
                "title": "Fluorescence derivative",
                "titleFont": "DejaVu Sans",
                "titleFontSize": 21,
                "titleColor": "#6a6aa2",
                "titlePadding": 24
              }
            },
            "color": {
              "field": "sample",
              "type": "nominal",
              "scale": {
                "domain": ["DR Congo-F3", "DR Congo-Z", "Ivory Coast-F16", "Suriname-S", "Norpalm-Ghana (N2)", "Norpalm-Ghana (N3)", "Norpalm-Ghana (N5)", "Control (-)"],
                "range": ["#d63232", "#f0a232", "#eeee6e", "#5cbf5c", "#1e4b20", "#3a3a96", "#1c2048", "#d04fc0"]
              },
              "legend": {"title": null, "rowPadding": 9, "orient": "none", "legendX": 361, "legendY": -9}
            }
          }
        }
      ]
    }
  ]
}
